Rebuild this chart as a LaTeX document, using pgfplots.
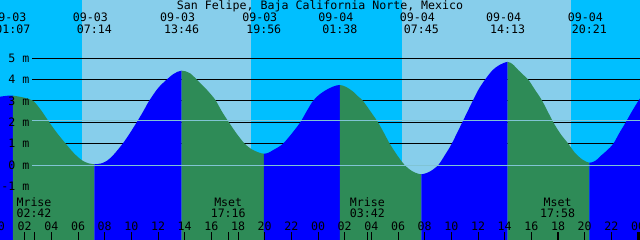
\documentclass[border=0pt]{standalone}
\usepackage{fontspec}
\setmainfont{DejaVu Sans Mono}
\usepackage{pgfplots}
\pgfplotsset{compat=1.18}
\usepgfplotslibrary{fillbetween}
\usepackage{pgfplotstable}
\definecolor{night}{HTML}{00BFFF}
\definecolor{day}{HTML}{87CEEB}
\definecolor{rise}{HTML}{0000FF}
\definecolor{fall}{HTML}{2E8B57}
\definecolor{datum}{HTML}{80C4D4}

\pgfplotstableread{
t h
0.15 3.20
0.6 3.24
1.117 3.25
2.0 3.15
2.65 3.0
3.25 2.55
3.85 2.0
4.45 1.48
5.08 1.0
5.7 0.55
6.3 0.22
6.8 0.08
7.233 0.04
7.7 0.07
8.15 0.19
8.65 0.47
9.35 1.0
9.9 1.5
10.4 2.0
10.9 2.52
11.33 3.0
12.0 3.6
12.65 4.0
13.2 4.28
13.767 4.42
14.4 4.3
15.15 3.85
15.7 3.5
16.3 3.05
16.8 2.5
17.32 2.0
17.9 1.47
18.5 1.0
19.0 0.75
19.5 0.6
19.933 0.53
20.3 0.58
20.63 0.7
21.0 0.83
21.38 1.0
22.0 1.45
22.67 2.0
23.15 2.52
23.62 3.0
24.1 3.3
24.62 3.52
25.15 3.68
25.633 3.75
26.1 3.66
26.63 3.44
27.0 3.22
27.38 3.0
27.95 2.5
28.5 2.0
28.95 1.5
29.38 1.0
29.95 0.45
30.5 0.0
31.1 -0.3
31.75 -0.43
32.4 -0.3
33.02 0.0
33.5 0.45
34.03 1.0
34.82 2.0
35.6 3.0
36.05 3.55
36.53 4.0
37.1 4.45
37.65 4.7
38.217 4.83
38.6 4.72
39.02 4.45
39.4 4.22
39.77 4.0
40.3 3.5
40.82 3.0
41.65 2.0
42.2 1.45
42.77 1.0
43.3 0.55
43.85 0.25
44.35 0.11
44.8 0.2
45.28 0.47
45.7 0.7
46.15 1.0
46.6 1.5
47.08 2.0
47.55 2.52
48.02 3.0
48.15 3.12
}\tide

\newcommand\hr[2]{\draw[line width=1bp] (axis cs:#1,-3.136) -- (axis cs:#1,-3.7);
  \node[anchor=base,inner sep=0pt] at (axis cs:#1,-3.042) {#2};}
\newcommand\ev[3]{\node[anchor=base,inner sep=0pt] at (axis cs:#1-0.3,6.714) {#2};
  \node[anchor=base,inner sep=0pt] at (axis cs:#1,6.170) {#3};}
\newcommand\moon[3]{\draw[line width=1bp] (axis cs:#1,-3.136) -- (axis cs:#1,-3.7);
  \node[anchor=base,inner sep=0pt] at (axis cs:#1,-1.918) {#2};
  \node[anchor=base,inner sep=0pt] at (axis cs:#1,-2.447) {#3};}
\newcommand\lev[2]{\node[anchor=east,inner sep=0pt] at (axis cs:2.36,#1) {#2};}

\begin{document}
\begin{tikzpicture}[font=\fontsize{11.6bp}{13bp}\selectfont]
\begin{axis}[width=640bp,height=240bp,scale only axis,
  xmin=0.15,xmax=48.15,ymin=-3.51,ymax=7.73,hide axis,clip=true,
  fill between/on layer=main]
% sky: night / day
\addplot[draw=none,fill=night] coordinates {(0,-4) (0,8) (49,8) (49,-4)} -- cycle;
\addplot[draw=none,fill=day] coordinates {(6.30,-4) (6.30,8) (18.98,8) (18.98,-4)} -- cycle;
\addplot[draw=none,fill=day] coordinates {(30.30,-4) (30.30,8) (42.98,8) (42.98,-4)} -- cycle;
% level lines
\addplot[black,line width=1bp] coordinates {(2.55,1) (49,1)};
\addplot[black,line width=1bp] coordinates {(2.55,2) (49,2)};
\addplot[black,line width=1bp] coordinates {(2.55,3) (49,3)};
\addplot[black,line width=1bp] coordinates {(2.55,4) (49,4)};
\addplot[black,line width=1bp] coordinates {(2.55,5) (49,5)};
% water
\addplot[name path=tide,draw=none,smooth,tension=0.5] table[x=t,y=h]{\tide};
\addplot[name path=floor,draw=none] coordinates {(0,-3.8) (49,-3.8)};
\addplot[fill=rise,draw=none] fill between[of=tide and floor,soft clip={domain=0.15:1.117}];
\addplot[fill=fall,draw=none] fill between[of=tide and floor,soft clip={domain=1.117:7.233}];
\addplot[fill=rise,draw=none] fill between[of=tide and floor,soft clip={domain=7.233:13.767}];
\addplot[fill=fall,draw=none] fill between[of=tide and floor,soft clip={domain=13.767:19.933}];
\addplot[fill=rise,draw=none] fill between[of=tide and floor,soft clip={domain=19.933:25.633}];
\addplot[fill=fall,draw=none] fill between[of=tide and floor,soft clip={domain=25.633:31.75}];
\addplot[fill=rise,draw=none] fill between[of=tide and floor,soft clip={domain=31.75:38.217}];
\addplot[fill=fall,draw=none] fill between[of=tide and floor,soft clip={domain=38.217:44.35}];
\addplot[fill=rise,draw=none] fill between[of=tide and floor,soft clip={domain=44.35:48.15}];
% datum and mean level lines
\addplot[datum,line width=1bp] coordinates {(2.55,0) (49,0)};
\addplot[datum,line width=1bp] coordinates {(2.55,2.09) (49,2.09)};
% level labels
\lev{5}{5 m}\lev{4}{4 m}\lev{3}{3 m}\lev{2}{2 m}\lev{1}{1 m}\lev{0}{0 m}\lev{-1}{-1 m}
% title and events
\node[anchor=base,inner sep=0pt] at (rel axis cs:0.5,0.95833) {San Felipe, Baja California Norte, Mexico};
\ev{1.117}{09-03}{01:07}
\ev{7.233}{09-03}{07:14}
\ev{13.767}{09-03}{13:46}
\ev{19.933}{09-03}{19:56}
\ev{25.633}{09-04}{01:38}
\ev{31.75}{09-04}{07:45}
\ev{38.217}{09-04}{14:13}
\ev{44.35}{09-04}{20:21}
% moon
\moon{2.7}{Mrise}{02:42}
\moon{17.267}{Mset}{17:16}
\moon{27.7}{Mrise}{03:42}
\moon{41.967}{Mset}{17:58}
% hours
\hr{0}{00}\hr{2}{02}\hr{4}{04}\hr{6}{06}\hr{8}{08}\hr{10}{10}\hr{12}{12}
\hr{14}{14}\hr{16}{16}\hr{18}{18}\hr{20}{20}\hr{22}{22}\hr{24}{00}
\hr{26}{02}\hr{28}{04}\hr{30}{06}\hr{32}{08}\hr{34}{10}\hr{36}{12}
\hr{38}{14}\hr{40}{16}\hr{42}{18}\hr{44}{20}\hr{46}{22}\hr{48}{00}
\draw[line width=2.5bp] (axis cs:48.03,-3.136) -- (axis cs:48.03,-3.7);
\end{axis}
\pgfresetboundingbox
\path[use as bounding box] (current axis.south west) rectangle (current axis.north east);
\end{tikzpicture}
\end{document}
